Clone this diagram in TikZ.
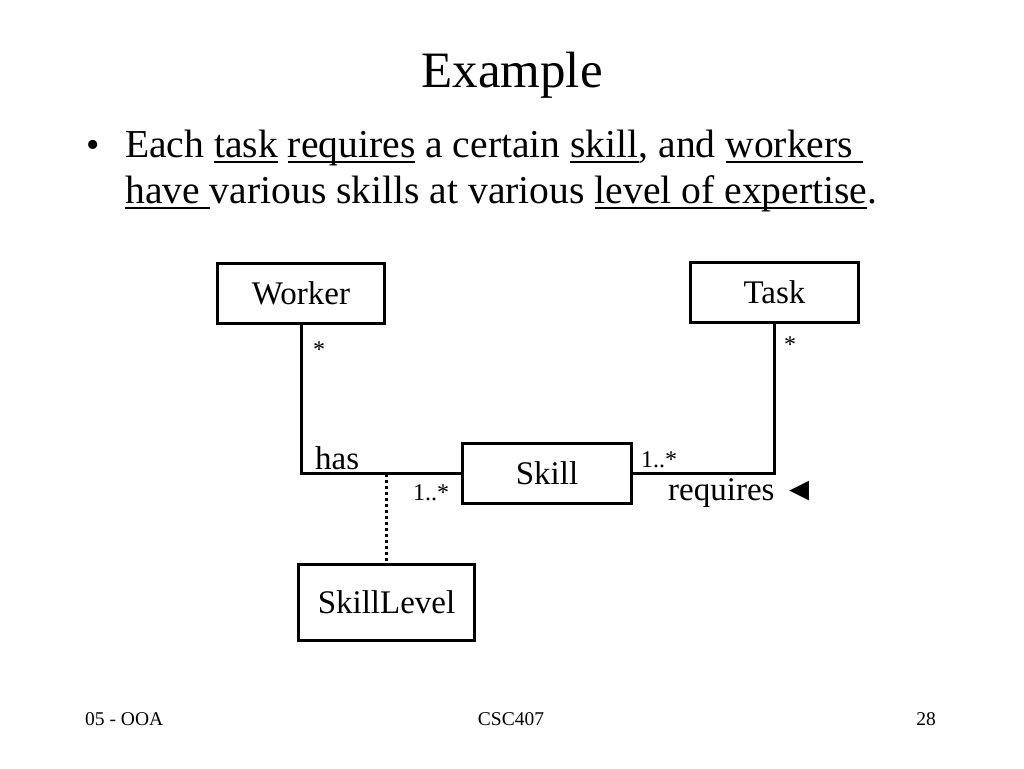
\documentclass[tikz,border=0pt]{standalone}
\usepackage{fontspec}
\setmainfont{Liberation Serif}
\newcommand{\ulx}[1]{\setbox0=\hbox{#1}\rlap{\rule[-6pt]{\wd0}{2pt}}\box0\relax}
\begin{document}
\begin{tikzpicture}[x=1pt,y=-1pt,
  cls/.style={draw, line width=3pt, inner sep=0pt, font=\fontsize{33}{40}\selectfont},
  assoc/.style={line width=3pt},
  link/.style={line width=3pt, dash pattern=on 3pt off 3pt},
  lbl/.style={inner sep=0pt, font=\fontsize{33}{40}\selectfont},
  mult/.style={inner sep=0pt, font=\fontsize{24}{28}\selectfont},
  body/.style={inner sep=0pt, anchor=base west, font=\fontsize{39.6}{46}\selectfont},
  foot/.style={inner sep=0pt, font=\fontsize{19.5}{22}\selectfont}]
\useasboundingbox[fill=white] (0,0) rectangle (1024,768);
% title and text
\node[inner sep=0pt, anchor=base, font=\fontsize{51}{60}\selectfont] (title) at (512,87) {Example};
\node[inner sep=0pt, anchor=base, font=\fontsize{38}{46}\selectfont] (bullet) at (93,157) {•};
\node[body] (line1) at (125,157) {Each \ulx{task} \ulx{requires} a certain \ulx{skill}, and \ulx{workers\ }};
\node[body] (line2) at (125,203) {\ulx{have\ }various skills at various \ulx{level of expertise}.};
% classes
\node[cls, minimum width=167pt, minimum height=60pt] (worker) at (301,293.5) {Worker};
\node[cls, minimum width=168pt, minimum height=60pt] (task) at (774.5,292.5) {Task};
\node[cls, minimum width=169pt, minimum height=60pt] (skill) at (547,473.5) {Skill};
\node[cls, minimum width=176pt, minimum height=76pt] (skilllevel) at (386.5,602.5) {SkillLevel};
% associations
\draw[assoc] (worker.south) |- (skill.west);
\draw[assoc] (skill.east) -| (task.south);
\coordinate (hasmid) at (386.5,473.5);
\draw[link] (hasmid) -- (skilllevel.north);
% labels
\node[mult, anchor=base] (mw) at (319,357) {*};
\node[mult, anchor=base] (mt) at (790,352) {*};
\node[lbl, anchor=base west] (has) at (315,469) {has};
\node[mult, anchor=base west] (ms1) at (413,500) {1..*};
\node[mult, anchor=base west] (ms2) at (641,467) {1..*};
\node[lbl, anchor=base west] (req) at (668,500) {requires ◄};
% footer
\node[foot, anchor=base west] (f1) at (85,725) {05 - OOA};
\node[foot, anchor=base] (f2) at (511,725) {CSC407};
\node[foot, anchor=base east] (f3) at (936,725) {28};
\end{tikzpicture}
\end{document}
